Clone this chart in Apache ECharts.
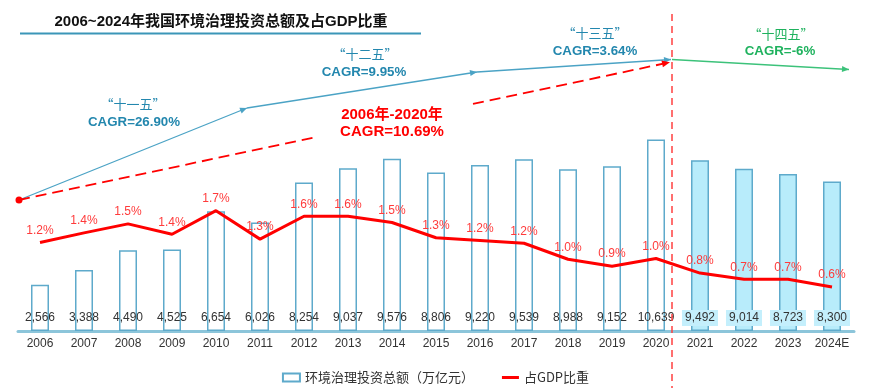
<!DOCTYPE html>
<html><head><meta charset="utf-8">
<script src="https://cdn.jsdelivr.net/npm/echarts@6/dist/echarts.min.js"></script>
<style>html,body{margin:0;padding:0;background:#fff}#c{width:871px;height:388px}</style>
</head><body><div id="c"></div>
<script>
// ---- data ----
const years = ['2006','2007','2008','2009','2010','2011','2012','2013','2014','2015','2016','2017','2018','2019','2020','2021','2022','2023','2024E'];
const investment = [2566,3388,4490,4525,6654,6026,8254,9037,9576,8806,9220,9539,8988,9152,10639,9492,9014,8723,8300];
const gdpShare = [1.24,1.38,1.51,1.36,1.70,1.29,1.62,1.62,1.53,1.31,1.27,1.23,1.00,0.90,1.01,0.80,0.71,0.71,0.60];
const gdpLabels = ['1.2%','1.4%','1.5%','1.4%','1.7%','1.3%','1.6%','1.6%','1.5%','1.3%','1.2%','1.2%','1.0%','0.9%','1.0%','0.8%','0.7%','0.7%','0.6%'];
const forecastStart = 15; // 2021 onward highlighted
const barName = '环境治理投资总额（万亿元）';
const lineName = '占GDP比重';

const FONT = '"Liberation Sans", Arial, "Noto Sans CJK SC", sans-serif';
const CJK = '"Noto Sans CJK SC", sans-serif';
const TEAL = '#2387ae', TEAL_LINE = '#4ba3c5', GREEN = '#1fb25e', GREEN_LINE = '#3cc27a', RED = '#ff0000';

function arrowHead(x1,y1,x2,y2,color,len,w){
  const dx=x2-x1, dy=y2-y1, L=Math.hypot(dx,dy), ux=dx/L, uy=dy/L, px=-uy, py=ux;
  const bx=x2-ux*len, by=y2-uy*len;
  return {type:'polygon', z:20, shape:{points:[[x2,y2],[bx+px*w,by+py*w],[bx-px*w,by-py*w]]}, style:{fill:color}};
}
function seg(x1,y1,x2,y2,color,width,dash){
  return {type:'line', z:19, shape:{x1,y1,x2,y2}, style:{stroke:color, lineWidth:width, lineDash:dash||null}};
}
function txt(t,x,y,color,size,weight,family){
  return {type:'text', z:21, style:{text:t, x, y, align:'center', verticalAlign:'middle', fill:color, fontSize:size, fontWeight:weight||'normal', fontFamily:family||FONT}};
}

const graphics = [
  txt('2006~2024年我国环境治理投资总额及占GDP比重', 221, 22, '#111', 15, 'bold'),
  seg(20,33.5,421,33.5,'#3b96b8',2),
  // vertical divider
  seg(672,14,672,388,'#ff4040',1.5,[7,5]),
  // blue CAGR polyline
  seg(19,200,247,108,TEAL_LINE,1.3), arrowHead(19,200,247,108,TEAL_LINE,7,3),
  seg(247,108,477,72,TEAL_LINE,1.3), arrowHead(247,108,477,72,TEAL_LINE,7,3),
  seg(477,72,671,59.5,TEAL_LINE,1.3), arrowHead(477,72,671,59.5,TEAL_LINE,7,3),
  // green
  seg(672,59.5,849,69.5,GREEN_LINE,1.3), arrowHead(672,59.5,849,69.5,GREEN_LINE,7,3),
  // red dashed overall
  seg(19,200,315,137.3,RED,1.8,[11,6]),
  seg(473,103.8,670,62.3,RED,1.8,[11,6]), arrowHead(473,103.8,670,62.3,RED,8,3.5),
  {type:'circle', z:22, shape:{cx:19, cy:200, r:3.5}, style:{fill:RED}},
  // texts
  txt('“十一五”',133,104,TEAL,13,'normal',CJK),
  txt('CAGR=26.90%',134,122,TEAL,13.3,'bold'),
  txt('“十二五”',365,54,TEAL,13,'normal',CJK),
  txt('CAGR=9.95%',364,72,TEAL,13.3,'bold'),
  txt('“十三五”',595,33,TEAL,13,'normal',CJK),
  txt('CAGR=3.64%',595,51,TEAL,13.3,'bold'),
  txt('“十四五”',781,34,GREEN,13,'normal',CJK),
  txt('CAGR=-6%',780,51,GREEN,13.3,'bold'),
  txt('2006年-2020年',392,115,RED,15,'bold'),
  txt('CAGR=10.69%',392,132,RED,15,'bold')
];

const chart = echarts.init(document.getElementById('c'));
chart.setOption({
  animation:false,
  textStyle:{fontFamily:FONT},
  grid:{left:18,right:17,top:115,bottom:57},
  legend:{
    top:366, left:'center', itemGap:28, itemWidth:17, itemHeight:8,
    textStyle:{fontSize:13, color:'#333', fontFamily:CJK},
    data:[{name:barName, icon:'rect'},{name:lineName, icon:'path://M0,0H17V3H0Z'}]
  },
  xAxis:{
    type:'category', data:years,
    axisLine:{lineStyle:{color:'#8cc5da', width:3}},
    axisTick:{show:false},
    axisLabel:{color:'#333', fontSize:12, margin:7, interval:0, fontFamily:FONT}
  },
  yAxis:[
    {type:'value', min:0, max:12000, show:false, splitLine:{show:false}},
    {type:'value', min:-0.035, max:3.08, show:false, splitLine:{show:false}}
  ],
  series:[
    {
      type:'bar', name:barName, barWidth:18, z:2,
      data: investment.map((v,i)=> i>=forecastStart ? {value:v, itemStyle:{color:'#b8ecfb'}, label:{backgroundColor:'#c4effc'}} : v),
      itemStyle:{color:'#fff', borderColor:'#5eaacb', borderWidth:1.5},
      label:{show:true, position:'insideBottom', distance:5, color:'#333', fontSize:12, padding:[2,3],
        formatter:p=>p.value.toLocaleString('en-US')}
    },
    {
      type:'line', name:lineName, yAxisIndex:1, z:5,
      data: gdpShare, symbol:'circle', symbolSize:0, showSymbol:true,
      lineStyle:{color:RED, width:3}, itemStyle:{color:RED},
      label:{show:true, position:'top', distance:6, color:'#ff3b3b', fontSize:12,
        formatter:p=>gdpLabels[p.dataIndex]}
    }
  ],
  graphic: graphics
});
</script></body></html>
